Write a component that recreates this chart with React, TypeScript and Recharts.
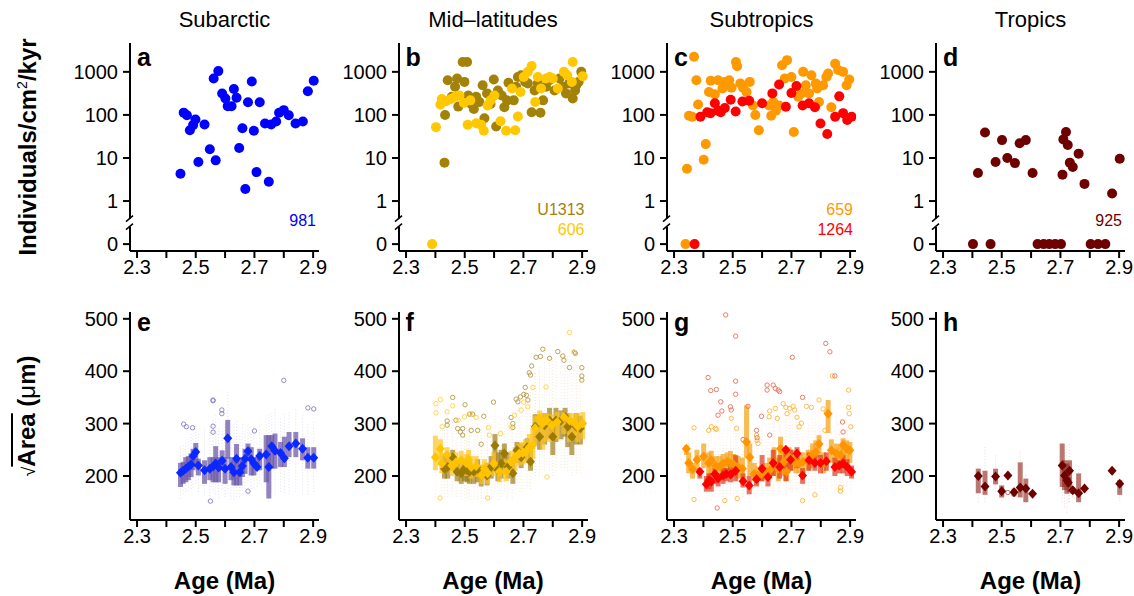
import React from 'react';
import { ScatterChart, Scatter, XAxis, YAxis, ErrorBar, ReferenceDot } from 'recharts';

const FONT = '"Liberation Sans", Arial, Helvetica, sans-serif';

// ---------- shared axis bits ----------
const AGE_DOMAIN: [number, number] = [2.276, 2.92];
const AGE_TICKS = [2.3, 2.4, 2.5, 2.6, 2.7, 2.8, 2.9];
const FLUX_TICKS = [-1, 0, 1, 2, 3];
const FLUX_LABELS = ['0', '1', '10', '100', '1000'];
const SIZE_TICKS = [200, 300, 400, 500];
const COLUMN_TITLES = ['Subarctic', 'Mid\u2013latitudes', 'Subtropics', 'Tropics'];

// ---------- top row: abundance [age Ma, individuals/cm2/kyr] ----------
const flux981 = [
  [2.448, 4.3], [2.459, 113], [2.47, 98], [2.499, 78], [2.491, 58], [2.48, 44], [2.53, 60], [2.509, 8.1],
  [2.548, 16], [2.568, 8.8], [2.561, 700], [2.577, 1040], [2.59, 314], [2.601, 240], [2.609, 160], [2.622, 160],
  [2.63, 400], [2.639, 250], [2.648, 17], [2.659, 49], [2.669, 1.9], [2.678, 197], [2.691, 597], [2.698, 43],
  [2.707, 4.7], [2.718, 197], [2.736, 63], [2.749, 2.8], [2.757, 60], [2.774, 70], [2.784, 112], [2.8, 129],
  [2.817, 98], [2.84, 63], [2.865, 70], [2.882, 355], [2.902, 620],
];
const fluxU1313 = [
  [2.431, 7.8], [2.433, 100], [2.442, 640], [2.456, 263], [2.467, 450], [2.474, 700], [2.478, 156], [2.493, 1700],
  [2.508, 1700], [2.499, 585], [2.512, 283], [2.522, 180], [2.531, 138], [2.539, 263], [2.55, 200], [2.561, 490],
  [2.567, 84], [2.576, 316], [2.588, 180], [2.599, 665], [2.607, 54], [2.613, 370], [2.626, 283], [2.635, 151],
  [2.644, 218], [2.649, 560], [2.667, 218], [2.675, 450], [2.681, 760], [2.692, 835], [2.706, 585], [2.715, 540],
  [2.728, 115], [2.738, 370], [2.749, 540], [2.758, 112], [2.767, 218], [2.777, 450], [2.789, 640], [2.806, 370],
  [2.823, 700], [2.834, 450], [2.845, 316], [2.856, 540], [2.868, 240], [2.876, 370], [2.888, 585], [2.897, 1000],
  [2.88, 490],
];
const flux606 = [
  [2.389, 0], [2.402, 52], [2.417, 174], [2.422, 234], [2.436, 209], [2.453, 234], [2.467, 263], [2.482, 283],
  [2.497, 190], [2.51, 59], [2.519, 218], [2.539, 64], [2.556, 59], [2.565, 43], [2.578, 166], [2.588, 218],
  [2.601, 283], [2.622, 71], [2.641, 43], [2.661, 410], [2.672, 44], [2.681, 92], [2.69, 340], [2.701, 760],
  [2.715, 1000], [2.728, 1360], [2.74, 200], [2.749, 760], [2.76, 410], [2.777, 700], [2.789, 760], [2.8, 700],
  [2.817, 410], [2.838, 1000], [2.849, 835], [2.868, 1700], [2.865, 585], [2.902, 790],
];
const flux659 = [
  [2.339, 0], [2.344, 5.6], [2.368, 2240], [2.376, 640], [2.351, 96], [2.362, 91], [2.382, 174], [2.401, 9.1],
  [2.408, 21], [2.419, 340], [2.425, 620], [2.439, 300], [2.45, 640], [2.465, 410], [2.473, 585], [2.488, 640],
  [2.496, 430], [2.511, 1700], [2.515, 1350], [2.526, 540], [2.535, 430], [2.547, 340], [2.558, 585], [2.569, 166],
  [2.577, 100], [2.589, 44], [2.624, 166], [2.631, 96], [2.638, 200], [2.647, 126], [2.658, 166], [2.668, 1430],
  [2.685, 1870], [2.677, 700], [2.7, 760], [2.708, 40], [2.723, 263], [2.734, 316], [2.74, 1000], [2.749, 490],
  [2.76, 316], [2.768, 835], [2.783, 540], [2.788, 410], [2.794, 200], [2.808, 490], [2.819, 760], [2.825, 910],
  [2.836, 151], [2.849, 1550], [2.859, 1100], [2.876, 1000], [2.888, 490], [2.897, 665],
];
const flux1264 = [
  [2.37, 0], [2.39, 91], [2.413, 115], [2.424, 110], [2.439, 186], [2.45, 126], [2.459, 115], [2.473, 145],
  [2.493, 224], [2.51, 120], [2.533, 204], [2.556, 214], [2.6, 186], [2.635, 316], [2.658, 510], [2.681, 155],
  [2.7, 324], [2.717, 470], [2.738, 166], [2.76, 186], [2.78, 151], [2.799, 63], [2.822, 36], [2.849, 91],
  [2.863, 270], [2.876, 110], [2.89, 76], [2.905, 91],
];
const flux925 = [
  [2.402, 0], [2.462, 0], [2.419, 4.5], [2.443, 39], [2.479, 8.1], [2.501, 26], [2.519, 10], [2.545, 7.6],
  [2.561, 22], [2.582, 26], [2.605, 4.5], [2.622, 0], [2.643, 0], [2.662, 0], [2.682, 0], [2.702, 0],
  [2.707, 4.1], [2.71, 27], [2.719, 40], [2.725, 20], [2.732, 7.8], [2.742, 6.2], [2.762, 12.6], [2.782, 2.5],
  [2.803, 0], [2.828, 0], [2.853, 0], [2.876, 1.5], [2.902, 9.6],
];

// ---------- bottom row: sqrt(area) per sample [age, min, q1, median, q3, max] ----------
const size981 = [
  [2.448, 157, 179, 206, 225, 258], [2.457, 165, 185, 210, 227, 262], [2.466, 170, 188, 214, 236, 268],
  [2.475, 172, 192, 218, 238, 270], [2.484, 175, 198, 222, 243, 280], [2.491, 178, 211, 238, 252, 282],
  [2.5, 185, 217, 246, 263, 300], [2.509, 170, 201, 220, 233, 285], [2.53, 163, 185, 211, 230, 290],
  [2.548, 162, 192, 214, 236, 300], [2.559, 168, 188, 218, 236, 310], [2.568, 165, 188, 224, 257, 318],
  [2.578, 158, 188, 216, 236, 295], [2.59, 175, 211, 229, 249, 290], [2.6, 160, 185, 214, 236, 300],
  [2.609, 175, 233, 272, 307, 360], [2.62, 155, 192, 217, 236, 275], [2.63, 155, 182, 207, 230, 300],
  [2.639, 160, 182, 233, 261, 305], [2.65, 160, 182, 207, 230, 280], [2.659, 165, 198, 219, 236, 300],
  [2.668, 175, 204, 233, 252, 285], [2.678, 190, 230, 247, 262, 300], [2.689, 175, 201, 232, 255, 282],
  [2.698, 178, 201, 224, 236, 295], [2.709, 180, 211, 217, 236, 265], [2.718, 185, 211, 238, 252, 300],
  [2.74, 165, 188, 241, 278, 315], [2.749, 150, 157, 217, 278, 318], [2.759, 170, 214, 257, 278, 320],
  [2.77, 165, 214, 248, 281, 330], [2.789, 170, 217, 244, 265, 310], [2.802, 168, 217, 234, 275, 320],
  [2.818, 165, 236, 257, 284, 325], [2.841, 170, 236, 262, 284, 330], [2.864, 165, 230, 252, 272, 320],
  [2.882, 165, 214, 235, 255, 300], [2.902, 170, 214, 235, 255, 305],
];
const out981 = [
  [2.459, 299], [2.468, 294], [2.489, 292], [2.559, 345], [2.559, 343.5], [2.589, 326], [2.589, 319], [2.559, 295],
  [2.559, 283.6], [2.7, 286], [2.678, 171], [2.55, 152], [2.8, 382.5], [2.882, 330], [2.902, 328],
];
const sizeU1313 = [
  [2.431, 160, 195, 214, 240, 300], [2.442, 160, 195, 217, 237, 310], [2.459, 170, 210, 236, 250, 320],
  [2.474, 160, 190, 208, 225, 300], [2.488, 155, 185, 205, 230, 290], [2.499, 158, 190, 214, 232, 300],
  [2.508, 155, 188, 211, 228, 300], [2.516, 155, 185, 208, 228, 295], [2.531, 155, 185, 208, 222, 290],
  [2.544, 155, 188, 214, 232, 300], [2.556, 150, 180, 201, 220, 290], [2.576, 150, 182, 201, 225, 295],
  [2.59, 155, 195, 217, 238, 300], [2.603, 170, 225, 258, 280, 330], [2.613, 155, 190, 211, 245, 300],
  [2.624, 160, 195, 224, 250, 310], [2.635, 170, 215, 243, 262, 320], [2.647, 155, 195, 217, 245, 310],
  [2.664, 155, 185, 205, 225, 300], [2.678, 175, 225, 249, 265, 330], [2.692, 170, 215, 236, 262, 340],
  [2.713, 180, 230, 255, 272, 350], [2.724, 175, 210, 227, 250, 360], [2.74, 200, 260, 294, 318, 400],
  [2.755, 200, 250, 275, 305, 410], [2.772, 210, 260, 297, 320, 420], [2.789, 210, 270, 306, 330, 430],
  [2.8, 200, 240, 275, 310, 420], [2.811, 210, 265, 306, 330, 430], [2.828, 215, 270, 306, 325, 430],
  [2.842, 215, 275, 313, 330, 440], [2.851, 210, 255, 294, 320, 430], [2.865, 200, 240, 275, 305, 420],
  [2.88, 205, 260, 294, 320, 420], [2.894, 205, 260, 291, 315, 410],
];
const outU1313 = [
  [2.44, 305], [2.44, 297], [2.459, 350], [2.47, 306.5], [2.476, 290.6], [2.485, 284], [2.493, 290.6], [2.493, 278],
  [2.501, 336], [2.516, 318], [2.527, 318], [2.522, 287], [2.544, 287], [2.556, 260.6], [2.565, 314], [2.598, 341],
  [2.658, 311.6], [2.664, 300], [2.664, 292.5], [2.675, 346.7], [2.681, 341.6], [2.69, 351], [2.701, 355.7],
  [2.715, 345], [2.71, 354], [2.72, 397], [2.728, 410], [2.743, 426.5], [2.758, 428], [2.766, 442], [2.789, 424.7],
  [2.817, 437.5], [2.834, 429], [2.838, 421], [2.857, 407], [2.874, 436], [2.877, 434], [2.899, 406.7],
  [2.899, 390.8], [2.899, 383], [2.706, 369], [2.724, 392.7],
];
const size606 = [
  [2.4, 160, 211, 236, 277, 320], [2.417, 165, 220, 252, 270, 330], [2.422, 160, 205, 224, 245, 310],
  [2.44, 170, 215, 240, 255, 320], [2.456, 160, 200, 220, 240, 310], [2.47, 158, 205, 226, 245, 300],
  [2.488, 160, 208, 230, 248, 310], [2.505, 158, 200, 225, 242, 300], [2.513, 160, 205, 231, 250, 305],
  [2.522, 155, 195, 217, 238, 300], [2.539, 158, 198, 219, 238, 300], [2.556, 150, 185, 201, 222, 290],
  [2.567, 155, 192, 214, 232, 295], [2.578, 155, 185, 205, 225, 300], [2.599, 160, 200, 224, 245, 305],
  [2.618, 155, 188, 208, 228, 300], [2.641, 158, 190, 208, 232, 300], [2.658, 160, 205, 227, 248, 320],
  [2.672, 165, 210, 236, 255, 330], [2.686, 170, 220, 243, 262, 340], [2.698, 175, 222, 244, 265, 345],
  [2.707, 175, 225, 246, 270, 350], [2.72, 180, 230, 255, 280, 360], [2.732, 185, 232, 259, 290, 380],
  [2.74, 200, 260, 291, 315, 400], [2.755, 210, 270, 310, 325, 410], [2.766, 200, 250, 300, 320, 400],
  [2.78, 210, 265, 306, 320, 410], [2.797, 205, 265, 297, 318, 420], [2.815, 210, 270, 303, 322, 420],
  [2.838, 215, 280, 312, 322, 430], [2.857, 210, 265, 306, 320, 440], [2.872, 210, 275, 303, 320, 430],
  [2.885, 205, 265, 294, 320, 420], [2.902, 210, 270, 300, 322, 410],
];
const out606 = [
  [2.402, 338], [2.402, 320.6], [2.417, 346], [2.423, 294], [2.44, 322.5], [2.459, 334], [2.478, 306.5],
  [2.499, 313], [2.519, 319], [2.539, 311.6], [2.581, 292.5], [2.584, 278], [2.622, 281], [2.658, 294],
  [2.669, 316], [2.692, 325.7], [2.715, 332], [2.732, 369], [2.777, 370], [2.78, 198], [2.857, 474], [2.872, 437],
  [2.578, 158], [2.416, 158], [2.701, 341],
];
const size659 = [
  [2.342, 200, 240, 252, 258, 275], [2.35, 175, 205, 225, 245, 300], [2.363, 170, 195, 213, 225, 290],
  [2.378, 175, 210, 231, 250, 300], [2.401, 175, 215, 237, 262, 305], [2.418, 170, 195, 225, 245, 300],
  [2.427, 170, 205, 230, 248, 305], [2.442, 165, 195, 219, 238, 300], [2.456, 165, 198, 218, 238, 300],
  [2.467, 165, 200, 224, 242, 300], [2.481, 165, 205, 227, 245, 305], [2.492, 170, 200, 224, 248, 310],
  [2.503, 165, 198, 222, 242, 300], [2.518, 165, 195, 217, 238, 300], [2.533, 160, 195, 214, 235, 295],
  [2.547, 180, 235, 265, 335, 370], [2.558, 170, 200, 236, 262, 310], [2.573, 165, 190, 204, 225, 300],
  [2.586, 165, 190, 201, 218, 290], [2.598, 165, 190, 204, 220, 290], [2.613, 165, 192, 208, 225, 300],
  [2.626, 165, 195, 211, 235, 300], [2.641, 165, 200, 224, 255, 310], [2.655, 165, 190, 214, 235, 310],
  [2.663, 180, 225, 252, 275, 320], [2.675, 170, 200, 227, 250, 310], [2.683, 165, 190, 208, 225, 310],
  [2.692, 175, 210, 236, 255, 320], [2.703, 170, 210, 230, 250, 320], [2.715, 170, 205, 225, 245, 315],
  [2.726, 170, 205, 224, 245, 310], [2.74, 170, 205, 227, 245, 310], [2.757, 170, 210, 231, 250, 315],
  [2.772, 175, 215, 241, 262, 320], [2.783, 175, 220, 246, 268, 320], [2.794, 180, 235, 261, 278, 330],
  [2.81, 170, 205, 225, 245, 310], [2.825, 220, 282, 319, 345, 400], [2.836, 180, 225, 249, 270, 330],
  [2.853, 175, 220, 243, 262, 320], [2.867, 170, 215, 240, 258, 320], [2.876, 180, 230, 259, 272, 330],
  [2.888, 180, 228, 252, 268, 325], [2.899, 175, 225, 249, 265, 320],
];
const out659 = [
  [2.368, 292], [2.368, 155], [2.418, 287], [2.427, 294], [2.441, 291], [2.444, 289], [2.473, 153], [2.495, 310],
  [2.513, 291], [2.515, 157], [2.581, 278], [2.583, 268], [2.586, 262], [2.624, 313], [2.626, 324], [2.645, 329],
  [2.652, 310], [2.672, 338], [2.681, 331], [2.685, 319], [2.694, 329], [2.706, 333], [2.711, 326], [2.719, 312],
  [2.726, 294], [2.734, 301], [2.738, 153], [2.751, 333], [2.768, 331], [2.78, 164], [2.794, 345], [2.808, 328],
  [2.814, 287], [2.819, 322.5], [2.84, 391], [2.867, 171], [2.867, 178], [2.895, 331], [2.897, 319], [2.895, 364],
  [2.902, 294],
];
const size1264 = [
  [2.388, 180, 195, 208, 215, 230], [2.41, 150, 170, 184, 200, 240], [2.419, 155, 175, 192, 205, 260],
  [2.427, 155, 170, 189, 205, 250], [2.439, 160, 185, 204, 215, 260], [2.45, 160, 180, 195, 205, 250],
  [2.467, 160, 185, 201, 215, 260], [2.478, 165, 190, 204, 215, 260], [2.493, 165, 188, 203, 220, 270],
  [2.51, 165, 190, 210, 240, 300], [2.535, 160, 178, 190, 205, 250], [2.556, 150, 165, 182, 200, 240],
  [2.581, 160, 180, 194, 208, 260], [2.6, 165, 190, 214, 240, 300], [2.62, 160, 180, 198, 215, 270],
  [2.638, 165, 200, 225, 250, 320], [2.66, 165, 195, 217, 240, 300], [2.681, 165, 190, 250, 255, 330],
  [2.697, 170, 210, 231, 250, 320], [2.719, 175, 215, 243, 255, 320], [2.738, 165, 185, 201, 215, 280],
  [2.76, 170, 210, 230, 245, 300], [2.78, 170, 210, 225, 240, 300], [2.799, 170, 205, 225, 240, 300],
  [2.819, 170, 210, 228, 245, 300], [2.848, 165, 200, 217, 235, 290], [2.863, 165, 205, 220, 230, 290],
  [2.876, 165, 205, 224, 240, 290], [2.89, 165, 200, 217, 232, 290], [2.905, 165, 195, 208, 220, 280],
];
const out1264 = [
  [2.416, 388], [2.425, 363], [2.444, 365], [2.45, 316], [2.459, 341.6], [2.463, 324], [2.476, 507.5],
  [2.492, 332], [2.495, 326], [2.51, 467], [2.51, 381], [2.51, 356], [2.535, 269.5], [2.552, 333], [2.581, 287],
  [2.583, 273], [2.598, 314], [2.617, 373.5], [2.617, 364], [2.626, 278], [2.638, 373.5], [2.645, 367],
  [2.655, 364], [2.66, 361], [2.703, 426.5], [2.738, 350], [2.817, 453], [2.831, 437], [2.848, 391],
  [2.876, 284], [2.447, 139], [2.874, 303],
];
const size925 = [
  [2.42, 150, 167, 200, 214, 220], [2.443, 150, 164, 180, 210, 258], [2.479, 170, 184, 199, 214, 240],
  [2.5, 152, 159, 171, 182, 190], [2.521, 201, 201, 201, 201, 201], [2.542, 155, 161, 169, 176, 180],
  [2.563, 155, 159, 178, 226, 248], [2.582, 148, 150, 176, 195, 205], [2.605, 166, 166, 166, 166, 166],
  [2.706, 150, 179, 220, 262, 262], [2.714, 140, 173, 201, 230, 245], [2.722, 130, 166, 192, 224, 262],
  [2.727, 150, 179, 187, 198, 240], [2.731, 150, 169, 210, 230, 262], [2.742, 160, 166, 173, 179, 200],
  [2.762, 148, 150, 167, 205, 222], [2.782, 176, 176, 176, 176, 176], [2.876, 210, 210, 210, 210, 210],
  [2.902, 152, 164, 185, 192, 195],
];
const out925 = [[2.521, 168.5]];

// ---------- helpers ----------
const toFlux = (rows: number[][]) => rows.map(([age, v]) => ({ age, t: v > 0 ? Math.log10(v) : -1 }));
const toBox = (rows: number[][]) =>
  rows.map(([age, lo, q1, med, q3, hi]) => ({ age, v: med, iqr: [med - q1, q3 - med], wh: [med - lo, hi - med] }));
const toPts = (rows: number[][]) => rows.map(([age, v]) => ({ age, v }));

const ageLabel = (v: number) => (Math.round(v * 10) % 2 === 1 ? v.toFixed(1) : '');
const fluxLabel = (v: number) => FLUX_LABELS[FLUX_TICKS.indexOf(v)] ?? '';

const dot = (color: string) => (p: any) => <circle cx={p.cx} cy={p.cy} r={5} fill={color} />;
const diamond = (color: string) => (p: any) => (
  <polygon
    points={`${p.cx},${p.cy - 5} ${p.cx + 4.5},${p.cy} ${p.cx},${p.cy + 5} ${p.cx - 4.5},${p.cy}`}
    fill={color}
  />
);
const ring = (color: string) => (p: any) => (
  <circle cx={p.cx} cy={p.cy} r={2.2} fill="none" stroke={color} strokeWidth={0.9} />
);

// y-axis break between 1 and 0
const BreakMark = (p: any) => {
  const { cx, cy } = p;
  return (
    <g>
      <rect x={cx - 5} y={cy - 4} width={10} height={8} fill="#fff" />
      <line x1={cx - 4} y1={cy - 1} x2={cx + 3} y2={cy - 7} stroke="#000" strokeWidth={1.5} />
      <line x1={cx - 4} y1={cy + 7} x2={cx + 3} y2={cy + 1} stroke="#000" strokeWidth={1.5} />
    </g>
  );
};

const AXIS_X = [130, 398.5, 667, 936];
const Y_W = 62;
const CW = 268;
const CH = 261;
const MARGIN = { top: 13, right: CW - Y_W - 189, bottom: 0, left: 0 };
const tickStyle = { fontSize: 20, fill: '#000', fontFamily: FONT };
const axisLine = { stroke: '#000', strokeWidth: 2 };

const xAxis = (
  <XAxis
    type="number"
    dataKey="age"
    domain={AGE_DOMAIN}
    ticks={AGE_TICKS}
    tickFormatter={ageLabel}
    allowDataOverflow
    interval={0}
    height={40}
    tickSize={7}
    tick={tickStyle}
    axisLine={axisLine}
    tickLine={axisLine}
  />
);

type FluxSeries = { rows: number[][]; color: string };
function FluxPanel({ series }: { series: FluxSeries[] }) {
  return (
    <ScatterChart width={CW} height={CH} margin={MARGIN}>
      {xAxis}
      <YAxis
        type="number"
        dataKey="t"
        domain={[-1.16, 3.67]}
        ticks={FLUX_TICKS}
        tickFormatter={fluxLabel}
        allowDataOverflow
        interval={0}
        width={Y_W}
        tickSize={7}
        tickMargin={5}
        tick={tickStyle}
        axisLine={axisLine}
        tickLine={axisLine}
      />
      {series.map((s, i) => (
        <Scatter key={i} data={toFlux(s.rows)} shape={dot(s.color)} isAnimationActive={false} />
      ))}
      <ReferenceDot x={AGE_DOMAIN[0]} y={-0.5} ifOverflow="visible" shape={BreakMark} />
    </ScatterChart>
  );
}

type SizeSeries = { rows: number[][]; out: number[][]; med: string; box: string; wh: string; ring: string };
function SizePanel({ series }: { series: SizeSeries[] }) {
  return (
    <ScatterChart width={CW} height={CH} margin={MARGIN}>
      {xAxis}
      <YAxis
        type="number"
        dataKey="v"
        domain={[116, 513]}
        ticks={SIZE_TICKS}
        allowDataOverflow
        interval={0}
        width={Y_W}
        tickSize={7}
        tickMargin={5}
        tick={tickStyle}
        axisLine={axisLine}
        tickLine={axisLine}
      />
      {series.map((s, i) => (
        <Scatter key={'o' + i} data={toPts(s.out)} shape={ring(s.ring)} isAnimationActive={false} />
      ))}
      {series.map((s, i) => (
        <Scatter key={'b' + i} data={toBox(s.rows)} dataKey="v" shape={diamond(s.med)} isAnimationActive={false}>
          <ErrorBar dataKey="wh" direction="y" width={0} stroke={s.wh} strokeWidth={0.8} strokeDasharray="1 2" isAnimationActive={false} />
          <ErrorBar dataKey="iqr" direction="y" width={0} stroke={s.box} strokeWidth={5} isAnimationActive={false} />
        </Scatter>
      ))}
    </ScatterChart>
  );
}

const fluxPanels: FluxSeries[][] = [
  [{ rows: flux981, color: '#0000ff' }],
  [{ rows: fluxU1313, color: '#a3820a' }, { rows: flux606, color: '#ffc800' }],
  [{ rows: flux659, color: '#ff9900' }, { rows: flux1264, color: '#ff0000' }],
  [{ rows: flux925, color: '#6e0000' }],
];
const sizePanels: SizeSeries[][] = [
  [{ rows: size981, out: out981, med: '#0a28ff', box: 'rgba(105,85,165,0.72)', wh: 'rgba(140,120,200,0.3)', ring: '#8a7cc4' }],
  [
    { rows: sizeU1313, out: outU1313, med: '#9c7a00', box: 'rgba(150,115,10,0.65)', wh: 'rgba(170,140,60,0.22)', ring: '#b39a4a' },
    { rows: size606, out: out606, med: '#ffc400', box: 'rgba(255,195,30,0.7)', wh: 'rgba(255,200,80,0.25)', ring: '#ffcf4a' },
  ],
  [
    { rows: size659, out: out659, med: '#ff9400', box: 'rgba(245,165,30,0.75)', wh: 'rgba(250,180,120,0.25)', ring: '#ffb53a' },
    { rows: size1264, out: out1264, med: '#ff0000', box: 'rgba(220,60,30,0.7)', wh: 'rgba(240,140,120,0.25)', ring: '#e8705a' },
  ],
  [{ rows: size925, out: out925, med: '#6e0000', box: 'rgba(140,30,20,0.6)', wh: 'rgba(180,100,100,0.3)', ring: '#b06060' }],
];
const siteLabels = [
  [{ text: '981', color: '#0000ff' }],
  [{ text: 'U1313', color: '#a3820a' }, { text: '606', color: '#ffc800' }],
  [{ text: '659', color: '#ff9900' }, { text: '1264', color: '#ff0000' }],
  [{ text: '925', color: '#6e0000' }],
];
const LETTERS_TOP = ['a', 'b', 'c', 'd'];
const LETTERS_BOTTOM = ['e', 'f', 'g', 'h'];

const abs = (extra: React.CSSProperties): React.CSSProperties => ({ position: 'absolute', fontFamily: FONT, color: '#000', ...extra });

export default function App() {
  return (
    <div style={{ position: 'absolute', left: 0, top: 0, width: 1134, height: 596, background: '#fff', overflow: 'hidden' }}>
      {AXIS_X.map((ax, i) => (
        <React.Fragment key={i}>
          <div style={abs({ left: ax + 94.5 - 150, top: 6, width: 300, height: 28, lineHeight: '28px', textAlign: 'center', fontSize: 22 })}>
            {COLUMN_TITLES[i]}
          </div>
          <div style={abs({ left: ax - Y_W, top: 30 })}>
            <FluxPanel series={fluxPanels[i]} />
          </div>
          <div style={abs({ left: ax - Y_W, top: 299 })}>
            <SizePanel series={sizePanels[i]} />
          </div>
          <div style={abs({ left: ax + 7, top: 43, fontSize: 25, fontWeight: 700, lineHeight: '28px' })}>{LETTERS_TOP[i]}</div>
          <div style={abs({ left: ax + 7, top: 308, fontSize: 25, fontWeight: 700, lineHeight: '28px' })}>{LETTERS_BOTTOM[i]}</div>
          <div
            style={abs({
              left: ax + 186 - 100,
              top: siteLabels[i].length === 1 ? 211 : 200,
              width: 100,
              textAlign: 'right',
              fontSize: 16,
              lineHeight: '20px',
            })}
          >
            {siteLabels[i].map((s) => (
              <div key={s.text} style={{ color: s.color }}>{s.text}</div>
            ))}
          </div>
          <div style={abs({ left: ax + 94.5 - 100, top: 566, width: 200, height: 30, lineHeight: '30px', textAlign: 'center', fontSize: 24, fontWeight: 700 })}>
            Age (Ma)
          </div>
        </React.Fragment>
      ))}
      <div
        style={abs({
          left: 28 - 150,
          top: 147 - 15,
          width: 300,
          height: 30,
          lineHeight: '30px',
          textAlign: 'center',
          fontSize: 24,
          fontWeight: 700,
          transform: 'rotate(-90deg)',
          whiteSpace: 'nowrap',
        })}
      >
        Individuals/cm<sup style={{ fontSize: 14, fontWeight: 400, verticalAlign: 'top', lineHeight: '18px' }}>2</sup>/kyr
      </div>
      <div
        style={abs({
          left: 27 - 100,
          top: 416 - 15,
          width: 200,
          height: 30,
          lineHeight: '30px',
          textAlign: 'center',
          fontSize: 24,
          fontWeight: 700,
          transform: 'rotate(-90deg)',
          whiteSpace: 'nowrap',
        })}
      >
        <span style={{ fontWeight: 400, fontSize: 18 }}>{'\u221A'}</span>
        <span style={{ textDecoration: 'overline' }}>Area</span> (<span style={{ fontWeight: 400 }}>{'\u03BC'}</span>m)
      </div>
    </div>
  );
}
